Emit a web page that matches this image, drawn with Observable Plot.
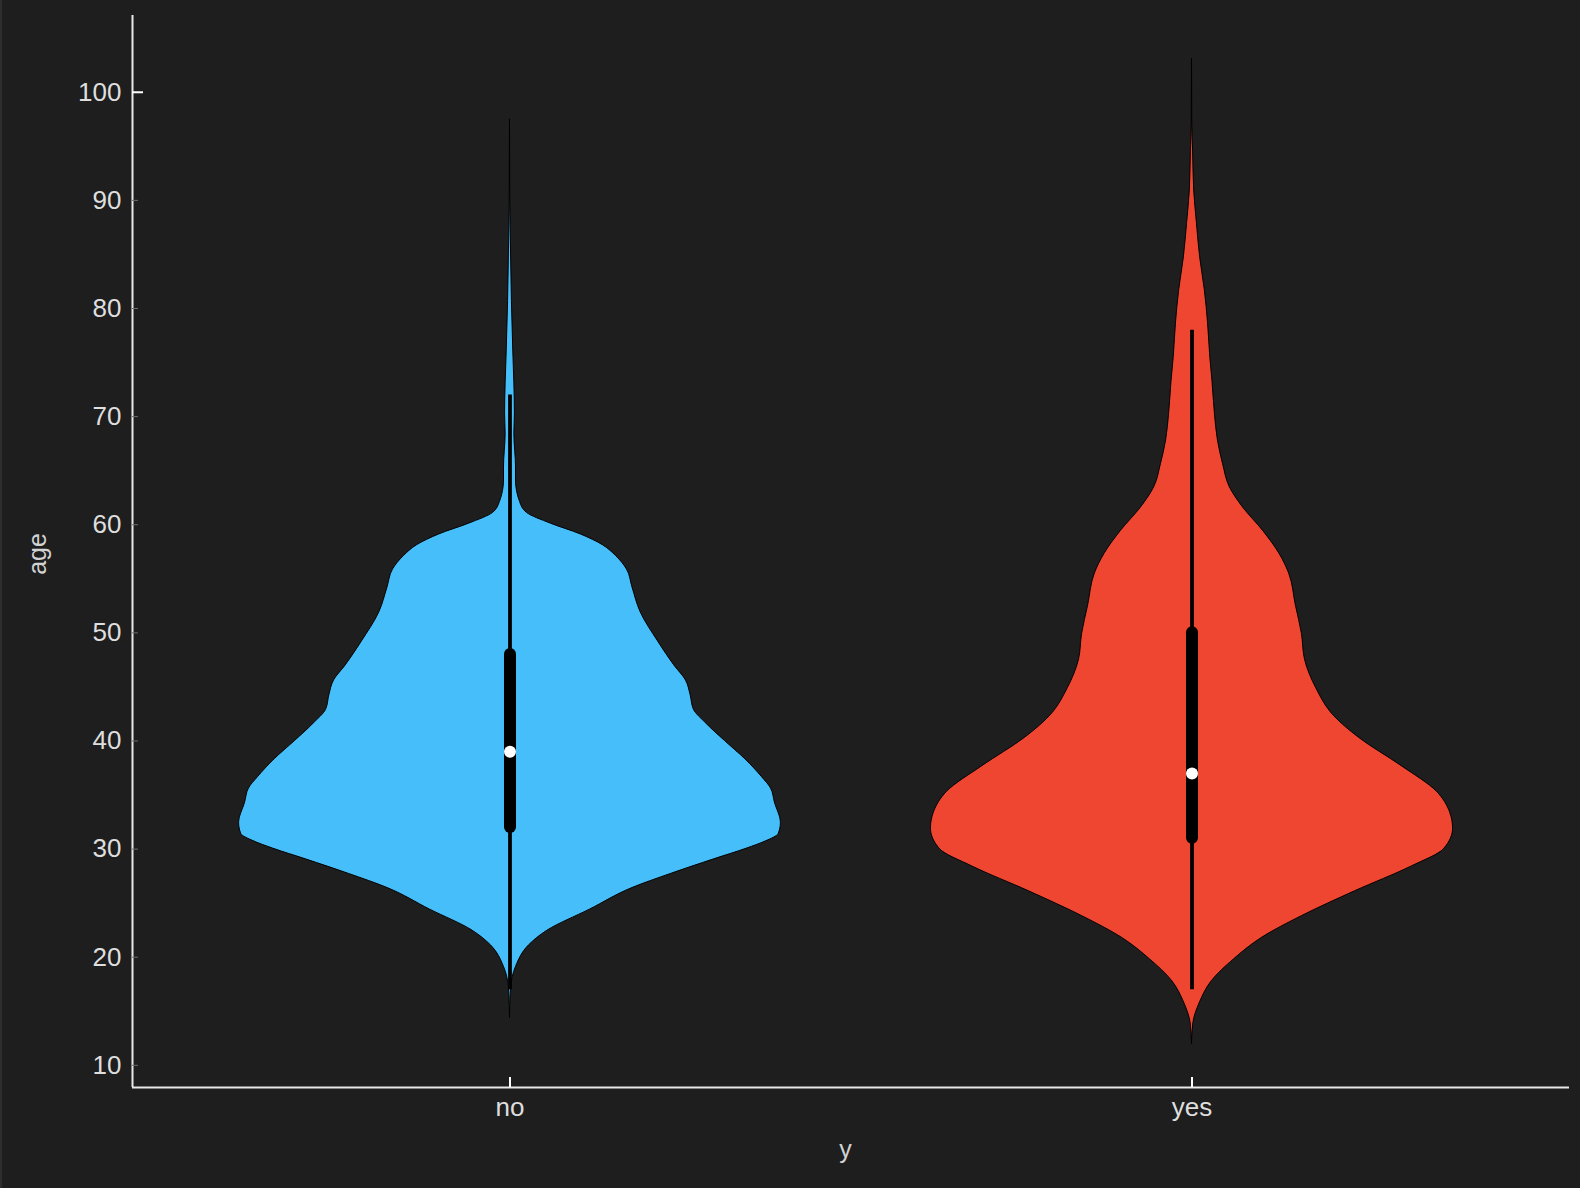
<!DOCTYPE html>
<html><head><meta charset="utf-8">
<script src="https://cdn.jsdelivr.net/npm/d3@7"></script>
<script src="https://cdn.jsdelivr.net/npm/@observablehq/plot@0.6"></script>
<style>
html,body{margin:0;padding:0;background:#1e1e1e;}
body{box-shadow: inset 2px 0 0 #2e2e2e; width:1580px;height:1188px;overflow:hidden}
#chart svg{display:block}
</style></head><body><div id="chart"></div>
<script>
// categories
const categories = ["no", "yes"];

// violin outlines: age and relative density (1 = full violin half-width)
const noAges =    [14.4, 15.5, 17.2, 19.1, 21.1, 22.45, 24.4, 26.4, 27.7, 29.05, 30.05, 30.7, 31.4, 32.4, 34.3, 35.6, 36.65, 38.3, 40.0, 41.6, 42.9, 44.25, 45.6, 46.9, 49.2, 51.9, 54.2, 55.85, 57.1, 58.1, 59.1, 60.1, 61.1, 62.1, 64.1, 65.3, 68.4, 70.3, 73.1, 76.1, 80.7, 85, 90, 97.5];
const noDensity = [0, 0.001, 0.004, 0.022, 0.070, 0.137, 0.293, 0.449, 0.590, 0.748, 0.869, 0.937, 0.985, 0.993, 0.971, 0.957, 0.924, 0.863, 0.788, 0.720, 0.674, 0.662, 0.645, 0.605, 0.543, 0.479, 0.449, 0.429, 0.389, 0.341, 0.260, 0.150, 0.062, 0.037, 0.022, 0.022, 0.016, 0.018, 0.016, 0.012, 0.007, 0.004, 0.001, 0];

const yesAges =    [12.0, 13.9, 15.8, 17.8, 19.8, 21.8, 23.8, 26.1, 28.4, 30.0, 31.9, 33.4, 35.3, 37.65, 40.3, 42.3, 44.9, 47.55, 49.9, 52.5, 55.5, 57.3, 59.45, 61.6, 63.5, 65.6, 67.8, 70.25, 73.3, 75.5, 78.6, 81.7, 84.7, 87.9, 90.9, 94.6, 97, 103.1];
const yesDensity = [0, 0.005, 0.029, 0.073, 0.154, 0.257, 0.403, 0.598, 0.806, 0.924, 0.957, 0.946, 0.898, 0.770, 0.612, 0.521, 0.455, 0.414, 0.403, 0.381, 0.356, 0.321, 0.260, 0.187, 0.138, 0.114, 0.095, 0.084, 0.075, 0.067, 0.059, 0.047, 0.030, 0.018, 0.008, 0.004, 0.001, 0];

// box summary per category
const whiskerLow  = [17, 17];
const quartile1   = [32, 31];
const medians     = [39, 37];
const quartile3   = [48, 50];
const whiskerHigh = [72, 78];

// axis ticks
const yTicks = [10, 20, 30, 40, 50, 60, 70, 80, 90, 100];
const xDomain = [-0.5535, 1.5535];
const yDomain = [7.95, 107.1];

const halfWidth = 0.4;

const violinRows = [];
[[noAges, noDensity], [yesAges, yesDensity]].forEach(([ages, dens], i) =>
  ages.forEach((a, j) => violinRows.push({category: categories[i], idx: i, age: a, density: dens[j]})));
const box = categories.map((c, i) => ({category: c, idx: i, lo: whiskerLow[i], q1: quartile1[i], med: medians[i], q3: quartile3[i], hi: whiskerHigh[i]}));

const chart = Plot.plot({
  width: 1580, height: 1188,
  marginTop: 15, marginBottom: 101, marginLeft: 132, marginRight: 11,
  style: {background: "transparent", fontFamily: "Liberation Sans, Arial, sans-serif", fontSize: "26px", color: "#dedede"},
  x: {domain: xDomain, axis: null},
  y: {domain: yDomain, axis: null},
  color: {domain: categories, range: ["#45bef9", "#ee4631"]},
  marks: [
    Plot.areaX(violinRows, {
      y: "age",
      x1: d => d.idx - halfWidth * d.density,
      x2: d => d.idx + halfWidth * d.density,
      z: "category", fill: "category",
      stroke: "#000", strokeWidth: 1, curve: "monotone-y"
    }),
    Plot.ruleX(box, {x: "idx", y1: "lo", y2: "hi", stroke: "#000", strokeWidth: 3.8}),
    Plot.ruleX(box, {x: "idx", y1: "q1", y2: "q3", stroke: "#000", strokeWidth: 12, strokeLinecap: "round"}),
    Plot.dot(box, {x: "idx", y: "med", r: 6, fill: "#fff"}),
    Plot.ruleX([xDomain[0]], {stroke: "#e8e8e8", strokeWidth: 2}),
    Plot.ruleY([yDomain[0]], {stroke: "#e8e8e8", strokeWidth: 2}),
    Plot.axisY({ticks: yTicks, tickSize: -6, tickPadding: 17, stroke: "#6e6e6e", fill: "#dedede", label: null, fontSize: 26}),
    Plot.axisY({ticks: [100], tickSize: -11, tickPadding: 0, stroke: "#ffffff", strokeWidth: 2, tickFormat: () => "", label: null}),
    Plot.axisX({ticks: [0, 1], tickFormat: i => categories[i], tickSize: -10, tickPadding: 20, stroke: "#ffffff", strokeWidth: 2, fill: "#dedede", label: null, fontSize: 26}),
    Plot.text(["age"], {frameAnchor: "left", textAnchor: "middle", lineAnchor: "middle", dx: -95, dy: 2.5, rotate: -90, fill: "#d2d2d2", fontSize: 25}),
    Plot.text(["y"], {frameAnchor: "bottom", textAnchor: "middle", lineAnchor: "middle", dx: -5.5, dy: 62, fill: "#d2d2d2", fontSize: 25})
  ]
});
document.getElementById("chart").appendChild(chart);
</script>
</body></html>
